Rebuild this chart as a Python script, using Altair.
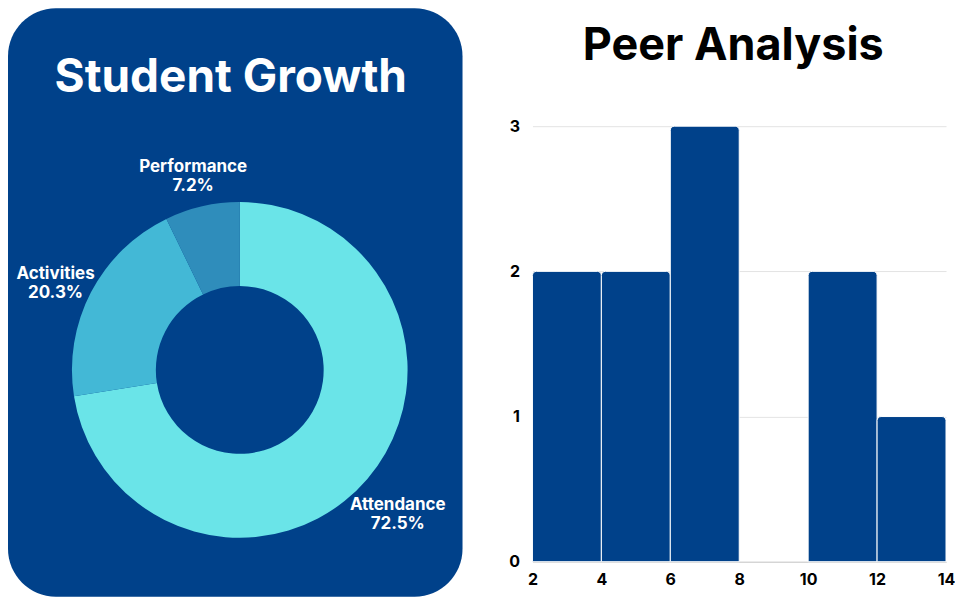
import altair as alt
import pandas as pd

# ---- data ----
categories = ["Attendance", "Activities", "Performance"]
shares = [72.5, 20.3, 7.2]
slice_colors = ["#6AE4E8", "#43B8D6", "#2F8DBB"]

bin_starts = [2, 4, 6, 8, 10, 12]
bin_counts = [2, 2, 3, 0, 2, 1]
bin_width = 2
x_ticks = [2, 4, 6, 8, 10, 12, 14]
y_grid = [0, 0.5, 1, 1.5, 2, 2.5, 3]

PANEL = "#00418A"
FONT = "Inter"

pie_df = pd.DataFrame({"category": categories, "share": shares, "order": list(range(len(categories)))})
hist_df = pd.DataFrame({"start": bin_starts, "count": bin_counts})

# both plot areas share the same top (page y ~126); left panel marks extend above it
PLOT_H = 436
W_L = 455
CX, CY = 232, 244

bg = alt.Chart(pd.DataFrame({"a": [0]})).mark_rect(color=PANEL, cornerRadius=48).encode(
    x=alt.value(0), x2=alt.value(W_L), y=alt.value(-118), y2=alt.value(471)
)
title_l = alt.Chart(pd.DataFrame({"t": ["Student Growth"]})).mark_text(
    font=FONT, fontSize=46, fontWeight="bold", color="white", align="center", baseline="middle"
).encode(text="t:N", x=alt.value(223), y=alt.value(-48))

theta = alt.Theta("share:Q", stack=True)
arc = alt.Chart(pie_df).mark_arc(outerRadius=168, innerRadius=84).encode(
    theta=theta,
    order=alt.Order("order:Q"),
    color=alt.Color("category:N", scale=alt.Scale(domain=categories, range=slice_colors), legend=None),
    x=alt.value(CX), y=alt.value(CY),
)
labels = alt.Chart(pie_df).transform_calculate(
    label="datum.category + '\\n' + format(datum.share, '.1f') + '%'"
).mark_text(
    radius=208, font=FONT, fontSize=17, fontWeight="bold", color="white",
    lineBreak="\n", lineHeight=19, align="center", baseline="middle"
).encode(
    theta=theta,
    order=alt.Order("order:Q"),
    detail="category:N",
    text="label:N",
    x=alt.value(CX), y=alt.value(CY),
)

left = alt.layer(bg, title_l, arc, labels).properties(width=W_L, height=PLOT_H)

# ---- right panel ----
W_R = 414
bars = alt.Chart(hist_df).transform_filter("datum.count > 0").transform_calculate(
    end=f"datum.start + {bin_width}"
).mark_rect(
    color=PANEL, stroke="white", strokeWidth=1, cornerRadiusTopLeft=4, cornerRadiusTopRight=4
).encode(
    x=alt.X("start:Q", scale=alt.Scale(domain=[x_ticks[0], x_ticks[-1]], nice=False), title=None,
            axis=alt.Axis(values=x_ticks, grid=False, ticks=False, domain=True, domainColor="#cccccc",
                          labelFont=FONT, labelFontSize=16, labelFontWeight="bold", labelColor="black",
                          labelPadding=10, labelFlush=False)),
    x2="end:Q",
    y=alt.Y("count:Q", scale=alt.Scale(domain=[0, 3], nice=False), title=None,
            axis=alt.Axis(values=y_grid, format="d",
                          labelExpr="datum.value % 1 === 0 ? datum.label : ''",
                          grid=True, gridColor="#e4e4e4", ticks=False, domain=False,
                          labelFont=FONT, labelFontSize=16, labelFontWeight="bold", labelColor="black",
                          labelPadding=13)),
    y2=alt.datum(0),
)
title_r = alt.Chart(pd.DataFrame({"t": ["Peer Analysis"]})).mark_text(
    font=FONT, fontSize=45, fontWeight="bold", color="black", align="center", baseline="middle"
).encode(text="t:N", x=alt.value(201), y=alt.value(-80))

right = alt.layer(bars, title_r).properties(width=W_R, height=PLOT_H)

chart = alt.hconcat(left, right, spacing=46).properties(padding=0).configure_view(stroke=None)

chart.save("out.html", embed_options={"renderer": "svg", "actions": False})
